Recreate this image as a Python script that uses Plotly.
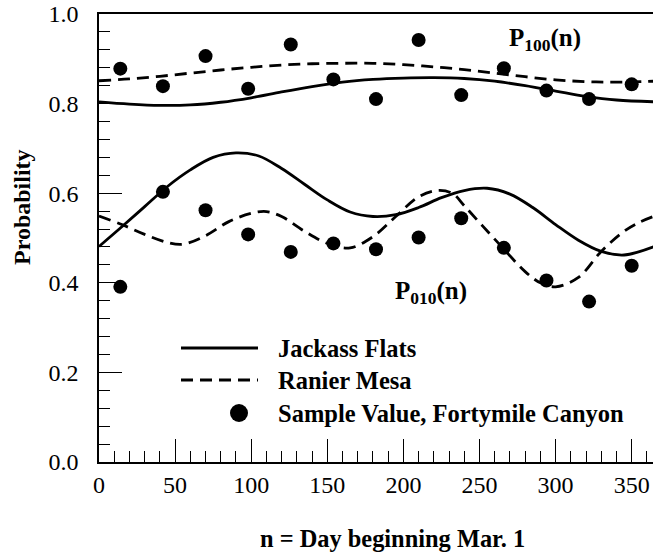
import plotly.graph_objects as go

# Sample values, Fortymile Canyon (every 28 days)
sample_days = [14, 42, 70, 98, 126, 154, 182, 210, 238, 266, 294, 322, 350]
sample_p100 = [0.878, 0.839, 0.906, 0.833, 0.932, 0.854, 0.810, 0.942, 0.819, 0.879, 0.829, 0.810, 0.843]
sample_p010 = [0.391, 0.603, 0.562, 0.508, 0.469, 0.488, 0.475, 0.501, 0.544, 0.478, 0.405, 0.358, 0.438]

# Jackass Flats fitted curves
jf_p100_days = [0, 20, 40, 60, 80, 100, 120, 140, 160, 180, 200, 220, 240, 260, 280, 300, 320, 340, 365]
jf_p100_vals = [0.804, 0.799, 0.796, 0.797, 0.803, 0.813, 0.826, 0.838, 0.848, 0.854, 0.857, 0.858,
                0.856, 0.850, 0.840, 0.828, 0.816, 0.808, 0.804]
jf_p010_days = [0, 15, 30, 45, 60, 75, 90, 105, 120, 135, 150, 165, 180, 195, 210, 225, 240, 255,
                270, 285, 300, 315, 330, 345, 365]
jf_p010_vals = [0.481, 0.525, 0.570, 0.615, 0.652, 0.680, 0.690, 0.683, 0.655, 0.620, 0.585, 0.558,
                0.548, 0.552, 0.568, 0.590, 0.606, 0.611, 0.598, 0.568, 0.530, 0.495, 0.470, 0.462, 0.481]

# Ranier Mesa fitted curves
rm_p100_days = [0, 20, 40, 60, 80, 100, 120, 140, 160, 180, 200, 220, 240, 260, 280, 300, 320, 340, 365]
rm_p100_vals = [0.851, 0.855, 0.861, 0.868, 0.875, 0.881, 0.886, 0.889, 0.890, 0.890, 0.887, 0.882,
                0.876, 0.868, 0.860, 0.853, 0.849, 0.848, 0.850]
rm_p010_days = [0, 15, 30, 45, 55, 70, 85, 100, 110, 120, 135, 150, 165, 180, 195, 210, 222, 232,
                240, 252, 265, 280, 290, 300, 315, 330, 345, 355, 365]
rm_p010_vals = [0.549, 0.530, 0.508, 0.490, 0.486, 0.505, 0.536, 0.555, 0.559, 0.548, 0.515, 0.488,
                0.478, 0.503, 0.548, 0.592, 0.606, 0.600, 0.572, 0.527, 0.479, 0.425, 0.400, 0.391,
                0.412, 0.470, 0.515, 0.535, 0.549]

x_ticks = [0, 50, 100, 150, 200, 250, 300, 350]
y_ticks = [0.0, 0.2, 0.4, 0.6, 0.8, 1.0]
y_ticklabels = ["0.0", "0.2", "0.4", "0.6", "0.8", "1.0"]

FONT = "'Liberation Serif', 'Times New Roman', Times, serif"
LW = 2.8
DASH = "12px,7px"

fig = go.Figure()

for days, vals in [(jf_p100_days, jf_p100_vals), (jf_p010_days, jf_p010_vals)]:
    fig.add_trace(go.Scatter(x=days, y=vals, mode="lines", line=dict(color="black", width=LW, shape="spline"),
                             showlegend=False, hoverinfo="skip"))
for days, vals in [(rm_p100_days, rm_p100_vals), (rm_p010_days, rm_p010_vals)]:
    fig.add_trace(go.Scatter(x=days, y=vals, mode="lines",
                             line=dict(color="black", width=LW, shape="spline", dash=DASH),
                             showlegend=False, hoverinfo="skip"))
for vals in (sample_p100, sample_p010):
    fig.add_trace(go.Scatter(x=sample_days, y=vals, mode="markers",
                             marker=dict(color="black", size=14, symbol="circle"),
                             showlegend=False))

# Hand-drawn key in paper coordinates
def px_x(px):
    return (px - 99) / 554

def px_y(py):
    return (462 - py) / 448

key_rows = [
    ("Jackass Flats", 348, "solid"),
    ("Ranier Mesa", 380, DASH),
    ("Sample Value, Fortymile Canyon", 413, None),
]
shapes = []
annotations = []
for label, ry, dash in key_rows:
    if dash is not None:
        shapes.append(dict(type="line", xref="paper", yref="paper",
                           x0=px_x(181), x1=px_x(258), y0=px_y(ry), y1=px_y(ry),
                           line=dict(color="black", width=3, dash=dash)))
    else:
        shapes.append(dict(type="circle", xref="paper", yref="paper",
                           x0=px_x(230), x1=px_x(248), y0=px_y(ry - 9), y1=px_y(ry + 9),
                           fillcolor="black", line=dict(color="black", width=0)))
    annotations.append(dict(text=f"<b>{label}</b>", xref="paper", yref="paper",
                            x=px_x(276), y=px_y(ry), xanchor="left", yanchor="middle",
                            showarrow=False, font=dict(family=FONT, size=24.5, color="black")))

annotations += [
    dict(text="<b>P<sub>100</sub>(n)</b>", x=293, y=0.943, xref="x", yref="y",
         xanchor="center", yanchor="middle",
         showarrow=False, font=dict(family=FONT, size=25, color="black")),
    dict(text="<b>P<sub>010</sub>(n)</b>", x=218, y=0.378, xref="x", yref="y",
         xanchor="center", yanchor="middle",
         showarrow=False, font=dict(family=FONT, size=25, color="black")),
    dict(text="<b>Probability</b>", xref="paper", yref="paper", x=px_x(22), y=px_y(207),
         xanchor="center", yanchor="middle",
         textangle=-90, showarrow=False, font=dict(family=FONT, size=24, color="black")),
    dict(text="<b>n = Day beginning Mar. 1</b>", xref="paper", yref="paper", x=px_x(392), y=px_y(538),
         xanchor="center", yanchor="middle",
         showarrow=False, font=dict(family=FONT, size=24.4, color="black")),
]

fig.update_layout(
    width=653, height=557,
    margin=dict(l=99, r=0, t=14, b=95),
    paper_bgcolor="white", plot_bgcolor="white",
    showlegend=False,
    font=dict(family=FONT, size=24, color="black"),
    shapes=shapes, annotations=annotations,
)
fig.update_xaxes(
    range=[0, 364], tickvals=x_ticks, ticks="inside", ticklen=23, tickwidth=1, tickcolor="black",
    minor=dict(dtick=10, ticks="inside", ticklen=11, tickwidth=1, tickcolor="black"),
    showline=True, linecolor="black", linewidth=1.5, mirror=True, showgrid=False, zeroline=False,
    ticklabelstandoff=0,
)
fig.update_yaxes(
    range=[0, 1], tickvals=y_ticks, ticktext=y_ticklabels, ticks="inside", ticklen=23, tickwidth=1,
    tickcolor="black",
    minor=dict(dtick=0.04, ticks="inside", ticklen=11, tickwidth=1, tickcolor="black"),
    showline=True, linecolor="black", linewidth=1.5, showgrid=False, zeroline=False,
    ticklabelstandoff=14,
)

fig.write_html("out.html")
